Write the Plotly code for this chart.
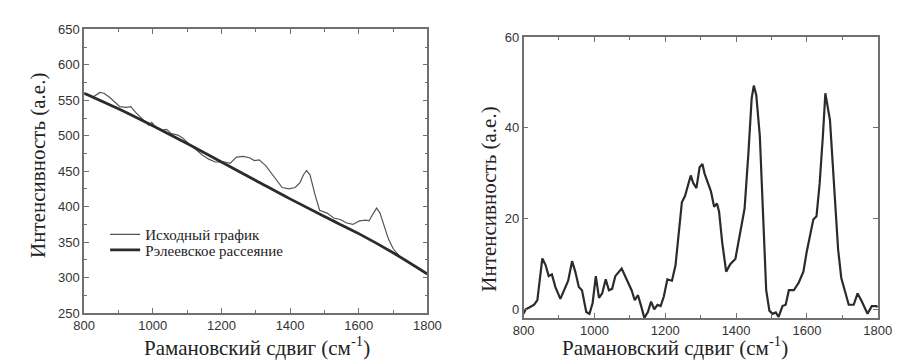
import plotly.graph_objects as go

# Left panel: original spectrum and Rayleigh baseline
orig_x = [804, 827, 846, 858, 875, 894, 904, 923, 936, 950, 969, 988, 997, 1007, 1026, 1040, 1054, 1073,
          1087, 1106, 1125, 1144, 1163, 1182, 1197, 1211, 1225, 1244, 1263, 1282, 1296, 1310, 1329, 1348,
          1362, 1377, 1396, 1415, 1429, 1439, 1448, 1458, 1472, 1486, 1508, 1527, 1546, 1565, 1583, 1602,
          1621, 1630, 1643, 1652, 1662, 1673, 1686, 1700, 1719]
orig_y = [560, 555, 561, 560, 554, 546, 541, 540, 541, 533, 524, 515, 519, 513, 508, 509, 503, 501,
          497, 488, 481, 473, 467, 463, 463, 463, 461, 470, 471, 469, 465, 466, 458, 446,
          436, 427, 425, 427, 434, 445, 451, 445, 418, 395, 391, 384, 382, 377, 375, 380,
          381, 380, 391, 398, 391, 373, 355, 341, 330]
base_x = [800, 900, 1000, 1100, 1200, 1300, 1400, 1500, 1600, 1700, 1800]
base_y = [560, 538, 514, 489, 463, 437, 411, 386, 362, 335, 305]

# Right panel: baseline-corrected spectrum
spec_x = [800, 806, 816, 830, 839, 846, 853, 862, 871, 880, 890, 904, 917, 926, 937, 946, 956, 965, 977,
          986, 995, 1004, 1013, 1022, 1032, 1041, 1050, 1059, 1077, 1091, 1105, 1114, 1123, 1132, 1141,
          1151, 1160, 1169, 1178, 1187, 1196, 1206, 1219, 1229, 1238, 1247, 1256, 1265, 1272, 1279,
          1288, 1297, 1305, 1311, 1320, 1329, 1338, 1346, 1352, 1361, 1372, 1384, 1398, 1412, 1424,
          1435, 1444, 1450, 1457, 1467, 1476, 1485, 1494, 1503, 1512, 1520, 1531, 1540, 1549, 1563,
          1577, 1590, 1599, 1609, 1618, 1627, 1636, 1645, 1652, 1665, 1677, 1688, 1697, 1709, 1718,
          1732, 1743, 1755, 1771, 1783, 1796, 1800]
spec_y = [-1.0, 0.0, 0.4, 1.0, 2.0, 6.3, 11.2, 9.8, 7.3, 7.7, 4.9, 2.3, 4.9, 6.3, 10.6, 8.3, 4.9, 4.2, -0.6,
          -1.0, 1.4, 7.3, 2.5, 3.5, 6.6, 4.2, 4.5, 7.3, 9.0, 6.6, 4.2, 2.0, 3.1, 0.7, -1.9,
          -0.6, 1.7, 0.0, 1.0, 0.7, 2.8, 6.6, 6.3, 9.7, 16.0, 23.6, 25.0, 27.8, 29.5, 27.8,
          26.7, 31.3, 32.0, 29.9, 27.8, 26.0, 22.6, 23.3, 21.5, 14.6, 8.3, 10.0, 11.1, 16.7, 22.2,
          34.7, 46.5, 49.3, 47.2, 38.2, 20.8, 4.2, -0.3, -1.0, -0.7, -1.7, 0.7, 1.0, 4.2, 4.2,
          5.9, 8.3, 12.5, 16.7, 19.8, 20.5, 27.8, 38.2, 47.6, 41.7, 25.7, 13.2, 6.9, 3.5, 1.0,
          1.0, 3.5, 1.7, -1.0, 0.7, 0.7, 0.5]

x_ticks = [800, 1000, 1200, 1400, 1600, 1800]
left_y_ticks = [250, 300, 350, 400, 450, 500, 550, 600, 650]
right_y_ticks = [0, 20, 40, 60]

SERIF = "Liberation Serif"
SANS = "Liberation Sans"

fig = go.Figure()
fig.add_trace(go.Scatter(x=orig_x, y=orig_y, mode="lines", name="Исходный график",
                         line=dict(color="#555555", width=1.2), xaxis="x", yaxis="y",
                         legend="legend"))
fig.add_trace(go.Scatter(x=base_x, y=base_y, mode="lines", name="Рэлеевское рассеяние",
                         line=dict(color="#2b2b2b", width=2.8, shape="spline"), xaxis="x", yaxis="y",
                         legend="legend2"))
fig.add_trace(go.Scatter(x=spec_x, y=spec_y, mode="lines", showlegend=False,
                         line=dict(color="#2b2b2b", width=2.2), xaxis="x2", yaxis="y2"))

tickfont = dict(family=SANS, size=13, color="#333333")
axis_common = dict(showline=True, linecolor="#707070", linewidth=1.5, mirror="ticks",
                   ticks="inside", ticklen=5, tickcolor="#707070", showgrid=False,
                   zeroline=False, tickfont=tickfont)
legend_font = dict(family=SERIF, size=15, color="#222222")

fig.update_layout(
    width=904, height=362,
    margin=dict(l=0, r=0, t=0, b=0),
    paper_bgcolor="white", plot_bgcolor="white",
    xaxis=dict(domain=[0.0741, 0.4646], range=[800, 1800], tickvals=x_ticks,
               minor=dict(dtick=100, ticks="inside", ticklen=3, tickcolor="#707070"),
               anchor="y", **axis_common),
    yaxis=dict(domain=[0.141, 0.9586], range=[250, 650], tickvals=left_y_ticks,
               minor=dict(dtick=25, ticks="inside", ticklen=3, tickcolor="#707070"),
               anchor="x", **axis_common),
    xaxis2=dict(domain=[0.574, 0.977], range=[800, 1800], tickvals=x_ticks,
                minor=dict(dtick=100, ticks="inside", ticklen=3, tickcolor="#707070"),
                anchor="y2", **axis_common),
    yaxis2=dict(domain=[1 - 316 / 362, 0.9365], range=[-1.9, 60], tickvals=right_y_ticks,
                anchor="x2", **axis_common),
    legend=dict(x=0.098, y=1 - 212 / 362, xanchor="left", yanchor="top", bgcolor="rgba(0,0,0,0)",
                font=legend_font, itemwidth=30),
    legend2=dict(x=0.098, y=1 - 228 / 362, xanchor="left", yanchor="top", bgcolor="rgba(0,0,0,0)",
                 font=legend_font, itemwidth=30),
    showlegend=True,
)

title_font = dict(family=SERIF, size=21, color="#222222")
xtitle = "Рамановский сдвиг (см<sup>-1</sup>)"
ytitle = "Интенсивность (а.е.)"
fig.add_annotation(text=xtitle, x=245 / 904, y=0, xref="paper", yref="paper",
                   showarrow=False, font=title_font, xanchor="center", yanchor="bottom")
fig.add_annotation(text=xtitle, x=675 / 904, y=0, xref="paper", yref="paper",
                   showarrow=False, font=title_font, xanchor="center", yanchor="bottom")
fig.add_annotation(text=ytitle, x=20 / 904, y=1 - 157 / 362, xref="paper", yref="paper",
                   showarrow=False, font=title_font, textangle=-90, xanchor="center", yanchor="middle")
fig.add_annotation(text=ytitle, x=483 / 904, y=1 - 192 / 362, xref="paper", yref="paper",
                   showarrow=False, font=title_font, textangle=-90, xanchor="center", yanchor="middle")

fig.write_html("out.html")
